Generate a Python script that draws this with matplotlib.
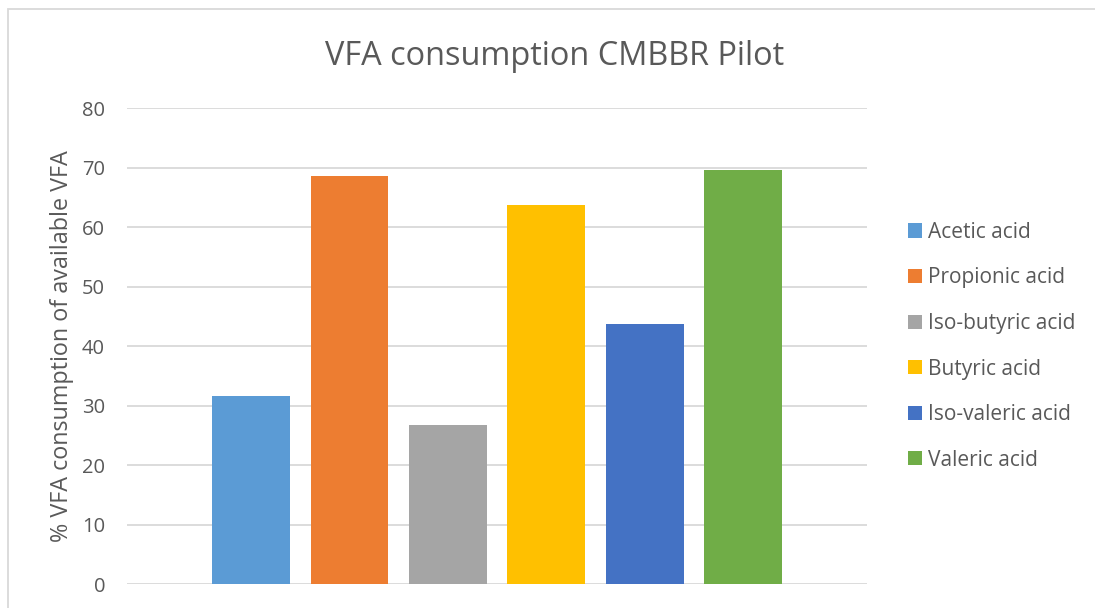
import matplotlib.pyplot as plt
from matplotlib.patches import Rectangle

# Данные
acids = ['Acetic acid', 'Propionic acid', 'Iso-butyric acid',
         'Butyric acid', 'Iso-valeric acid', 'Valeric acid']
consumption = [31.6, 68.6, 26.8, 63.7, 43.7, 69.6]
colors = ['#5B9BD5', '#ED7D31', '#A5A5A5', '#FFC000', '#4472C4', '#70AD47']
yticks = [0, 10, 20, 30, 40, 50, 60, 70, 80]

plt.rcParams['font.family'] = ['Open Sans', 'DejaVu Sans']
text_color = '#595959'

fig = plt.figure(figsize=(10.95, 6.08), dpi=100)
ax = fig.add_axes([0.116, 0.039, 0.676, 0.783])

for i, (name, val, c) in enumerate(zip(acids, consumption, colors)):
    ax.bar(i, val, width=0.79, color=c, label=name, zorder=3)

ax.set_xlim(-1.26, 6.26)
ax.set_ylim(0, 80)
ax.set_yticks(yticks)
ax.set_xticks([])
ax.tick_params(axis='y', length=0, pad=15.8, labelsize=14.5, labelcolor=text_color)
ax.grid(axis='y', color='#d9d9d9', linewidth=1.3, zorder=0)
for s in ax.spines.values():
    s.set_visible(False)

ax.set_ylabel('% VFA consumption of available VFA', fontsize=16.8,
              color=text_color, labelpad=6)

fig.text(0.506, 1 - 65 / 608, 'VFA consumption CMBBR Pilot', ha='center',
         va='baseline', fontsize=23.4, color=text_color)

leg = ax.legend(loc='center left', bbox_to_anchor=(1.03, 0.5), frameon=False,
                fontsize=15, labelspacing=1.18, handlelength=0.66, handleheight=0.66,
                handletextpad=0.3)
for t in leg.get_texts():
    t.set_color(text_color)

# Рамка области диаграммы
fig.patches.append(Rectangle((7.5 / 1095, -0.1), 1.2, 1 - 9.5 / 608 + 0.1,
                             transform=fig.transFigure, fill=False,
                             edgecolor='#d9d9d9', linewidth=1.3))

plt.savefig('out.png', dpi=100)
